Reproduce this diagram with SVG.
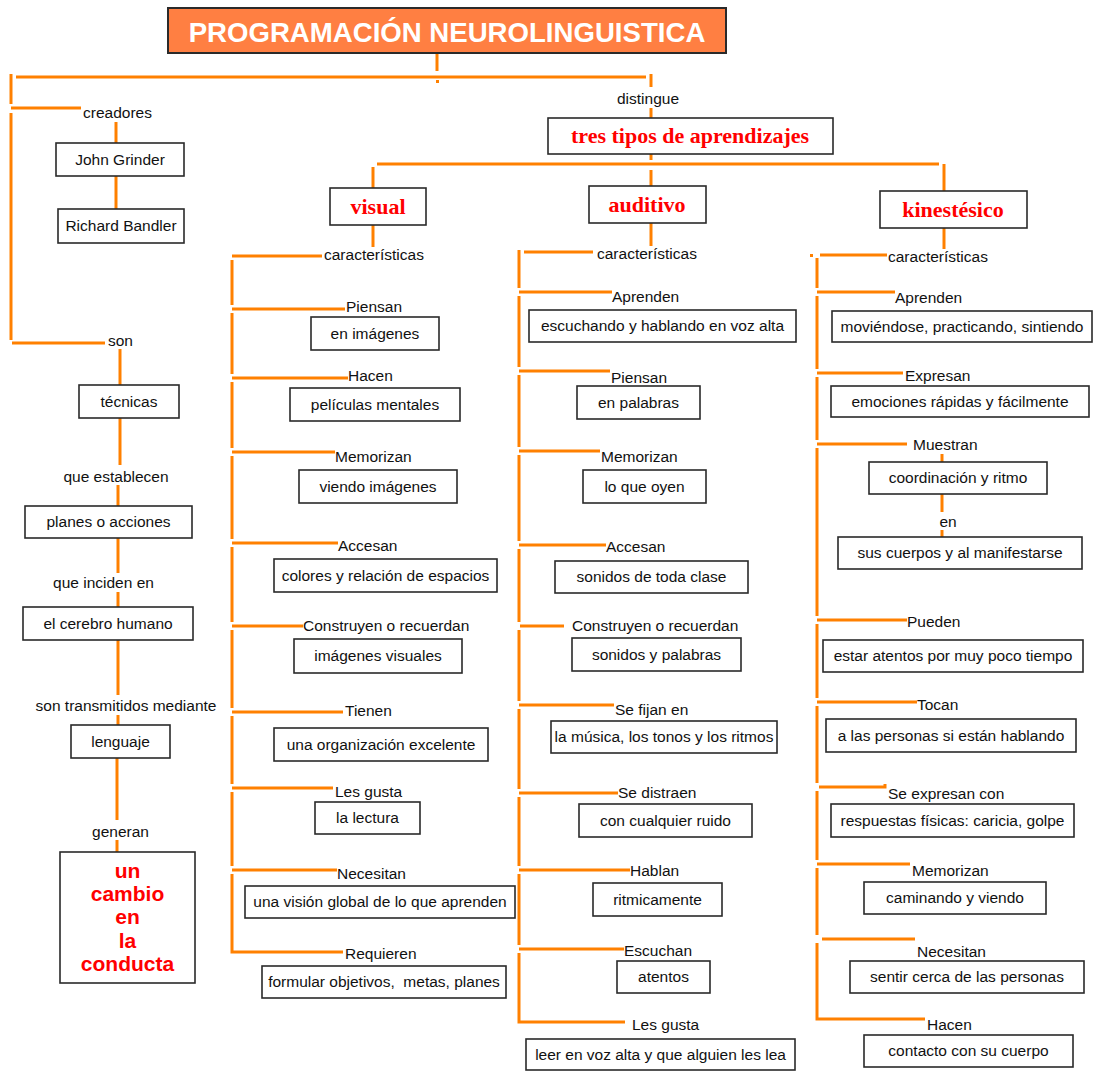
<svg xmlns="http://www.w3.org/2000/svg" width="1094" height="1072" viewBox="0 0 1094 1072">
<style>
.ln{stroke:#FF8000;stroke-width:3;fill:none}
.dot{fill:#FF8000}
.box{fill:#fff;stroke:#2a2a2a;stroke-width:1.6}
.t{font-family:"Liberation Sans",Arial,sans-serif;font-size:15.5px;fill:#111}
.c{text-anchor:middle}
.red{font-family:"Liberation Serif","Times New Roman",serif;font-weight:bold;font-size:22px;fill:#FF0000;text-anchor:middle}
.redb{font-family:"Liberation Sans",Arial,sans-serif;font-weight:bold;font-size:21px;fill:#FF0000;text-anchor:middle}
.title{font-family:"Liberation Sans",Arial,sans-serif;font-weight:bold;font-size:27.6px;fill:#fff;text-anchor:middle}
</style>
<rect width="1094" height="1072" fill="#fff"/>
<g id="connectors">
<!-- top -->
<line class="ln" x1="437" y1="53" x2="437" y2="71"/>
<rect class="dot" x="436" y="80" width="3" height="3"/>
<line class="ln" x1="16" y1="77" x2="646" y2="77"/>
<line class="ln" x1="651" y1="74" x2="651" y2="87"/>
<line class="ln" x1="651" y1="108" x2="651" y2="118"/>
<line class="ln" x1="651" y1="154" x2="651" y2="160"/>
<line class="ln" x1="377" y1="164" x2="939" y2="164"/>
<line class="ln" x1="373" y1="167" x2="373" y2="188"/>
<line class="ln" x1="651" y1="170" x2="651" y2="186"/>
<line class="ln" x1="944" y1="164" x2="944" y2="191"/>
<line class="ln" x1="373" y1="225" x2="373" y2="247"/>
<line class="ln" x1="651" y1="223" x2="651" y2="246"/>
<line class="ln" x1="944" y1="228" x2="944" y2="249"/>
<!-- left -->
<line class="ln" x1="11" y1="74" x2="11" y2="104"/>
<line class="ln" x1="11" y1="108" x2="81" y2="108"/>
<line class="ln" x1="11" y1="113" x2="11" y2="340"/>
<line class="ln" x1="12" y1="343" x2="105" y2="343"/>
<line class="ln" x1="116" y1="122" x2="116" y2="143"/>
<line class="ln" x1="116" y1="176" x2="116" y2="209"/>
<line class="ln" x1="120" y1="349" x2="120" y2="385"/>
<line class="ln" x1="120" y1="418" x2="120" y2="465"/>
<line class="ln" x1="118" y1="485" x2="118" y2="506"/>
<line class="ln" x1="118" y1="538" x2="118" y2="573"/>
<line class="ln" x1="118" y1="592" x2="118" y2="607"/>
<line class="ln" x1="118" y1="640" x2="118" y2="695"/>
<line class="ln" x1="118" y1="715" x2="118" y2="725"/>
<line class="ln" x1="117" y1="758" x2="117" y2="820"/>
<line class="ln" x1="117" y1="840" x2="117" y2="852"/>
<!-- visual -->
<path class="ln" d="M232 256H322M232 260V305M232 309H345M232 313V374M232 378H348M232 382V448M232 452H335M232 456V539M232 543H338M232 547V622M232 626H303M232 630V708M232 712H343M232 716V784M232 788H333M232 792V866M232 870H337M232 874V952H343"/>
<!-- auditivo -->
<path class="ln" d="M519 250V288M524 252H593M519 292H612M519 296V367M519 371H610M519 375V447M519 451H600M519 455V541M519 545H606M519 549V622M520 626H564M519 630V701M519 705H614M519 709V789M519 793H618M519 797V866M519 870H630M519 874V945M519 949H624M519 953V1022H625"/>
<!-- kinestesico -->
<rect class="dot" x="810" y="254" width="3" height="3"/>
<path class="ln" d="M817 258V288M820 255H887M817 292H895M817 296V369M817 373H903M817 377V440M817 444H907M817 448V616M817 620H907M817 624V698M817 702H917M817 706V783M819 787H885V784M817 791V860M817 864H910M817 868V935M822 939H915M817 943V1019H925"/>
<line class="ln" x1="942" y1="454" x2="942" y2="462"/>
<line class="ln" x1="942" y1="494" x2="942" y2="512"/>
<line class="ln" x1="942" y1="530" x2="942" y2="537"/>
</g>
<!-- labels -->
<g id="labels">
<text class="t" x="83" y="117.5">creadores</text>
<text class="t" x="108" y="346">son</text>
<text class="t c" x="116" y="482">que establecen</text>
<text class="t c" x="103.5" y="588">que inciden en</text>
<text class="t c" x="126" y="711">son transmitidos mediante</text>
<text class="t c" x="120.5" y="837">generan</text>
<text class="t c" x="648" y="104">distingue</text>
<text class="t" x="324" y="260">características</text>
<text class="t" x="346" y="312">Piensan</text>
<text class="t" x="348" y="381">Hacen</text>
<text class="t" x="335" y="462">Memorizan</text>
<text class="t" x="338" y="551">Accesan</text>
<text class="t" x="303" y="631">Construyen o recuerdan</text>
<text class="t" x="345" y="716">Tienen</text>
<text class="t" x="335" y="797">Les gusta</text>
<text class="t" x="337" y="879">Necesitan</text>
<text class="t" x="345" y="959">Requieren</text>
<text class="t" x="597" y="259">características</text>
<text class="t" x="612" y="302">Aprenden</text>
<text class="t" x="611" y="383">Piensan</text>
<text class="t" x="601" y="462">Memorizan</text>
<text class="t" x="606" y="552">Accesan</text>
<text class="t" x="572" y="631">Construyen o recuerdan</text>
<text class="t" x="615" y="715">Se fijan en</text>
<text class="t" x="618" y="798">Se distraen</text>
<text class="t" x="630" y="876">Hablan</text>
<text class="t" x="624" y="956">Escuchan</text>
<text class="t" x="632" y="1030">Les gusta</text>
<text class="t" x="888" y="262">características</text>
<text class="t" x="895" y="303">Aprenden</text>
<text class="t" x="905" y="381">Expresan</text>
<text class="t" x="913" y="450">Muestran</text>
<text class="t c" x="948" y="527">en</text>
<text class="t" x="907" y="627">Pueden</text>
<text class="t" x="917" y="710">Tocan</text>
<text class="t" x="888" y="799">Se expresan con</text>
<text class="t" x="912" y="876">Memorizan</text>
<text class="t" x="917" y="957">Necesitan</text>
<text class="t" x="927" y="1030">Hacen</text>
</g>
<!-- nodes -->
<g id="n-title"><rect x="168" y="8" width="558" height="45" fill="#FF7F42" stroke="#2a2a2a" stroke-width="2"/><text class="title" x="447" y="42">PROGRAMACIÓN NEUROLINGUISTICA</text></g>
<g id="n-john"><rect class="box" x="56" y="143" width="128" height="33"/><text class="t c" x="120" y="164.5">John Grinder</text></g>
<g id="n-richard"><rect class="box" x="58" y="209" width="126" height="34"/><text class="t c" x="121" y="231">Richard Bandler</text></g>
<g id="n-tecnicas"><rect class="box" x="79" y="385" width="100" height="33"/><text class="t c" x="129" y="406.5">técnicas</text></g>
<g id="n-planes"><rect class="box" x="25" y="506" width="167" height="32"/><text class="t c" x="108.5" y="527">planes o acciones</text></g>
<g id="n-cerebro"><rect class="box" x="23" y="607" width="170" height="33"/><text class="t c" x="108" y="628.5">el cerebro humano</text></g>
<g id="n-lenguaje"><rect class="box" x="71" y="725" width="99" height="33"/><text class="t c" x="120.5" y="746.5">lenguaje</text></g>
<g id="n-cambio"><rect class="box" x="60" y="852" width="135" height="131"/>
<text class="redb" x="127.5" y="878">un</text><text class="redb" x="127.5" y="901">cambio</text><text class="redb" x="127.5" y="924">en</text><text class="redb" x="127.5" y="948">la</text><text class="redb" x="127.5" y="971">conducta</text></g>
<g id="n-tres"><rect class="box" x="548" y="118" width="285" height="36"/><text class="red" x="690" y="143">tres tipos de aprendizajes</text></g>
<g id="n-visual"><rect class="box" x="330" y="188" width="96" height="37"/><text class="red" x="378" y="214">visual</text></g>
<g id="n-auditivo"><rect class="box" x="589" y="186" width="117" height="37"/><text class="red" x="647" y="212">auditivo</text></g>
<g id="n-kinestesico"><rect class="box" x="880" y="191" width="147" height="37"/><text class="red" x="953" y="217">kinestésico</text></g>
<!-- visual boxes -->
<g id="n-v1"><rect class="box" x="311" y="317" width="128" height="33"/><text class="t c" x="375" y="338.5">en imágenes</text></g>
<g id="n-v2"><rect class="box" x="290" y="388" width="170" height="33"/><text class="t c" x="375" y="409.5">películas mentales</text></g>
<g id="n-v3"><rect class="box" x="299" y="470" width="158" height="33"/><text class="t c" x="378" y="491.5">viendo imágenes</text></g>
<g id="n-v4"><rect class="box" x="274" y="559" width="223" height="33"/><text class="t c" x="385.5" y="580.5">colores y relación de espacios</text></g>
<g id="n-v5"><rect class="box" x="294" y="639" width="168" height="34"/><text class="t c" x="378" y="661">imágenes visuales</text></g>
<g id="n-v6"><rect class="box" x="274" y="728" width="214" height="33"/><text class="t c" x="381" y="749.5">una organización excelente</text></g>
<g id="n-v7"><rect class="box" x="315" y="802" width="105" height="32"/><text class="t c" x="367.5" y="823">la lectura</text></g>
<g id="n-v8"><rect class="box" x="245" y="886" width="270" height="32"/><text class="t c" x="380" y="907">una visión global de lo que aprenden</text></g>
<g id="n-v9"><rect class="box" x="262" y="966" width="244" height="32"/><text class="t c" x="384" y="987">formular objetivos,&#160; metas, planes</text></g>
<!-- auditivo boxes -->
<g id="n-a1"><rect class="box" x="529" y="310" width="267" height="32"/><text class="t c" x="662.5" y="331">escuchando y hablando en voz alta</text></g>
<g id="n-a2"><rect class="box" x="577" y="386" width="123" height="33"/><text class="t c" x="638.5" y="407.5">en palabras</text></g>
<g id="n-a3"><rect class="box" x="583" y="470" width="123" height="33"/><text class="t c" x="644.5" y="491.5">lo que oyen</text></g>
<g id="n-a4"><rect class="box" x="555" y="561" width="193" height="32"/><text class="t c" x="651.5" y="582">sonidos de toda clase</text></g>
<g id="n-a5"><rect class="box" x="572" y="638" width="169" height="33"/><text class="t c" x="656.5" y="659.5">sonidos y palabras</text></g>
<g id="n-a6"><rect class="box" x="551" y="721" width="226" height="32"/><text class="t c" x="664" y="742">la música, los tonos y los ritmos</text></g>
<g id="n-a7"><rect class="box" x="579" y="804" width="173" height="33"/><text class="t c" x="665.5" y="825.5">con cualquier ruido</text></g>
<g id="n-a8"><rect class="box" x="593" y="883" width="129" height="33"/><text class="t c" x="657.5" y="904.5">ritmicamente</text></g>
<g id="n-a9"><rect class="box" x="617" y="961" width="93" height="32"/><text class="t c" x="663.5" y="982">atentos</text></g>
<g id="n-a10"><rect class="box" x="526" y="1039" width="269" height="31"/><text class="t c" x="660.5" y="1060">leer en voz alta y que alguien les lea</text></g>
<!-- kinestesico boxes -->
<g id="n-k1"><rect class="box" x="832" y="311" width="260" height="31"/><text class="t c" x="962" y="331.5">moviéndose, practicando, sintiendo</text></g>
<g id="n-k2"><rect class="box" x="831" y="386" width="258" height="31"/><text class="t c" x="960" y="406.5">emociones rápidas y fácilmente</text></g>
<g id="n-k3"><rect class="box" x="869" y="462" width="178" height="32"/><text class="t c" x="958" y="483">coordinación y ritmo</text></g>
<g id="n-k4"><rect class="box" x="838" y="537" width="244" height="32"/><text class="t c" x="960" y="558">sus cuerpos y al manifestarse</text></g>
<g id="n-k5"><rect class="box" x="823" y="640" width="260" height="32"/><text class="t c" x="953" y="661">estar atentos por muy poco tiempo</text></g>
<g id="n-k6"><rect class="box" x="826" y="719" width="250" height="33"/><text class="t c" x="951" y="740.5">a las personas si están hablando</text></g>
<g id="n-k7"><rect class="box" x="831" y="804" width="243" height="33"/><text class="t c" x="952.5" y="825.5">respuestas físicas: caricia, golpe</text></g>
<g id="n-k8"><rect class="box" x="864" y="882" width="182" height="32"/><text class="t c" x="955" y="903">caminando y viendo</text></g>
<g id="n-k9"><rect class="box" x="850" y="961" width="234" height="32"/><text class="t c" x="967" y="982">sentir cerca de las personas</text></g>
<g id="n-k10"><rect class="box" x="864" y="1035" width="209" height="32"/><text class="t c" x="968.5" y="1056">contacto con su cuerpo</text></g>
</svg>
